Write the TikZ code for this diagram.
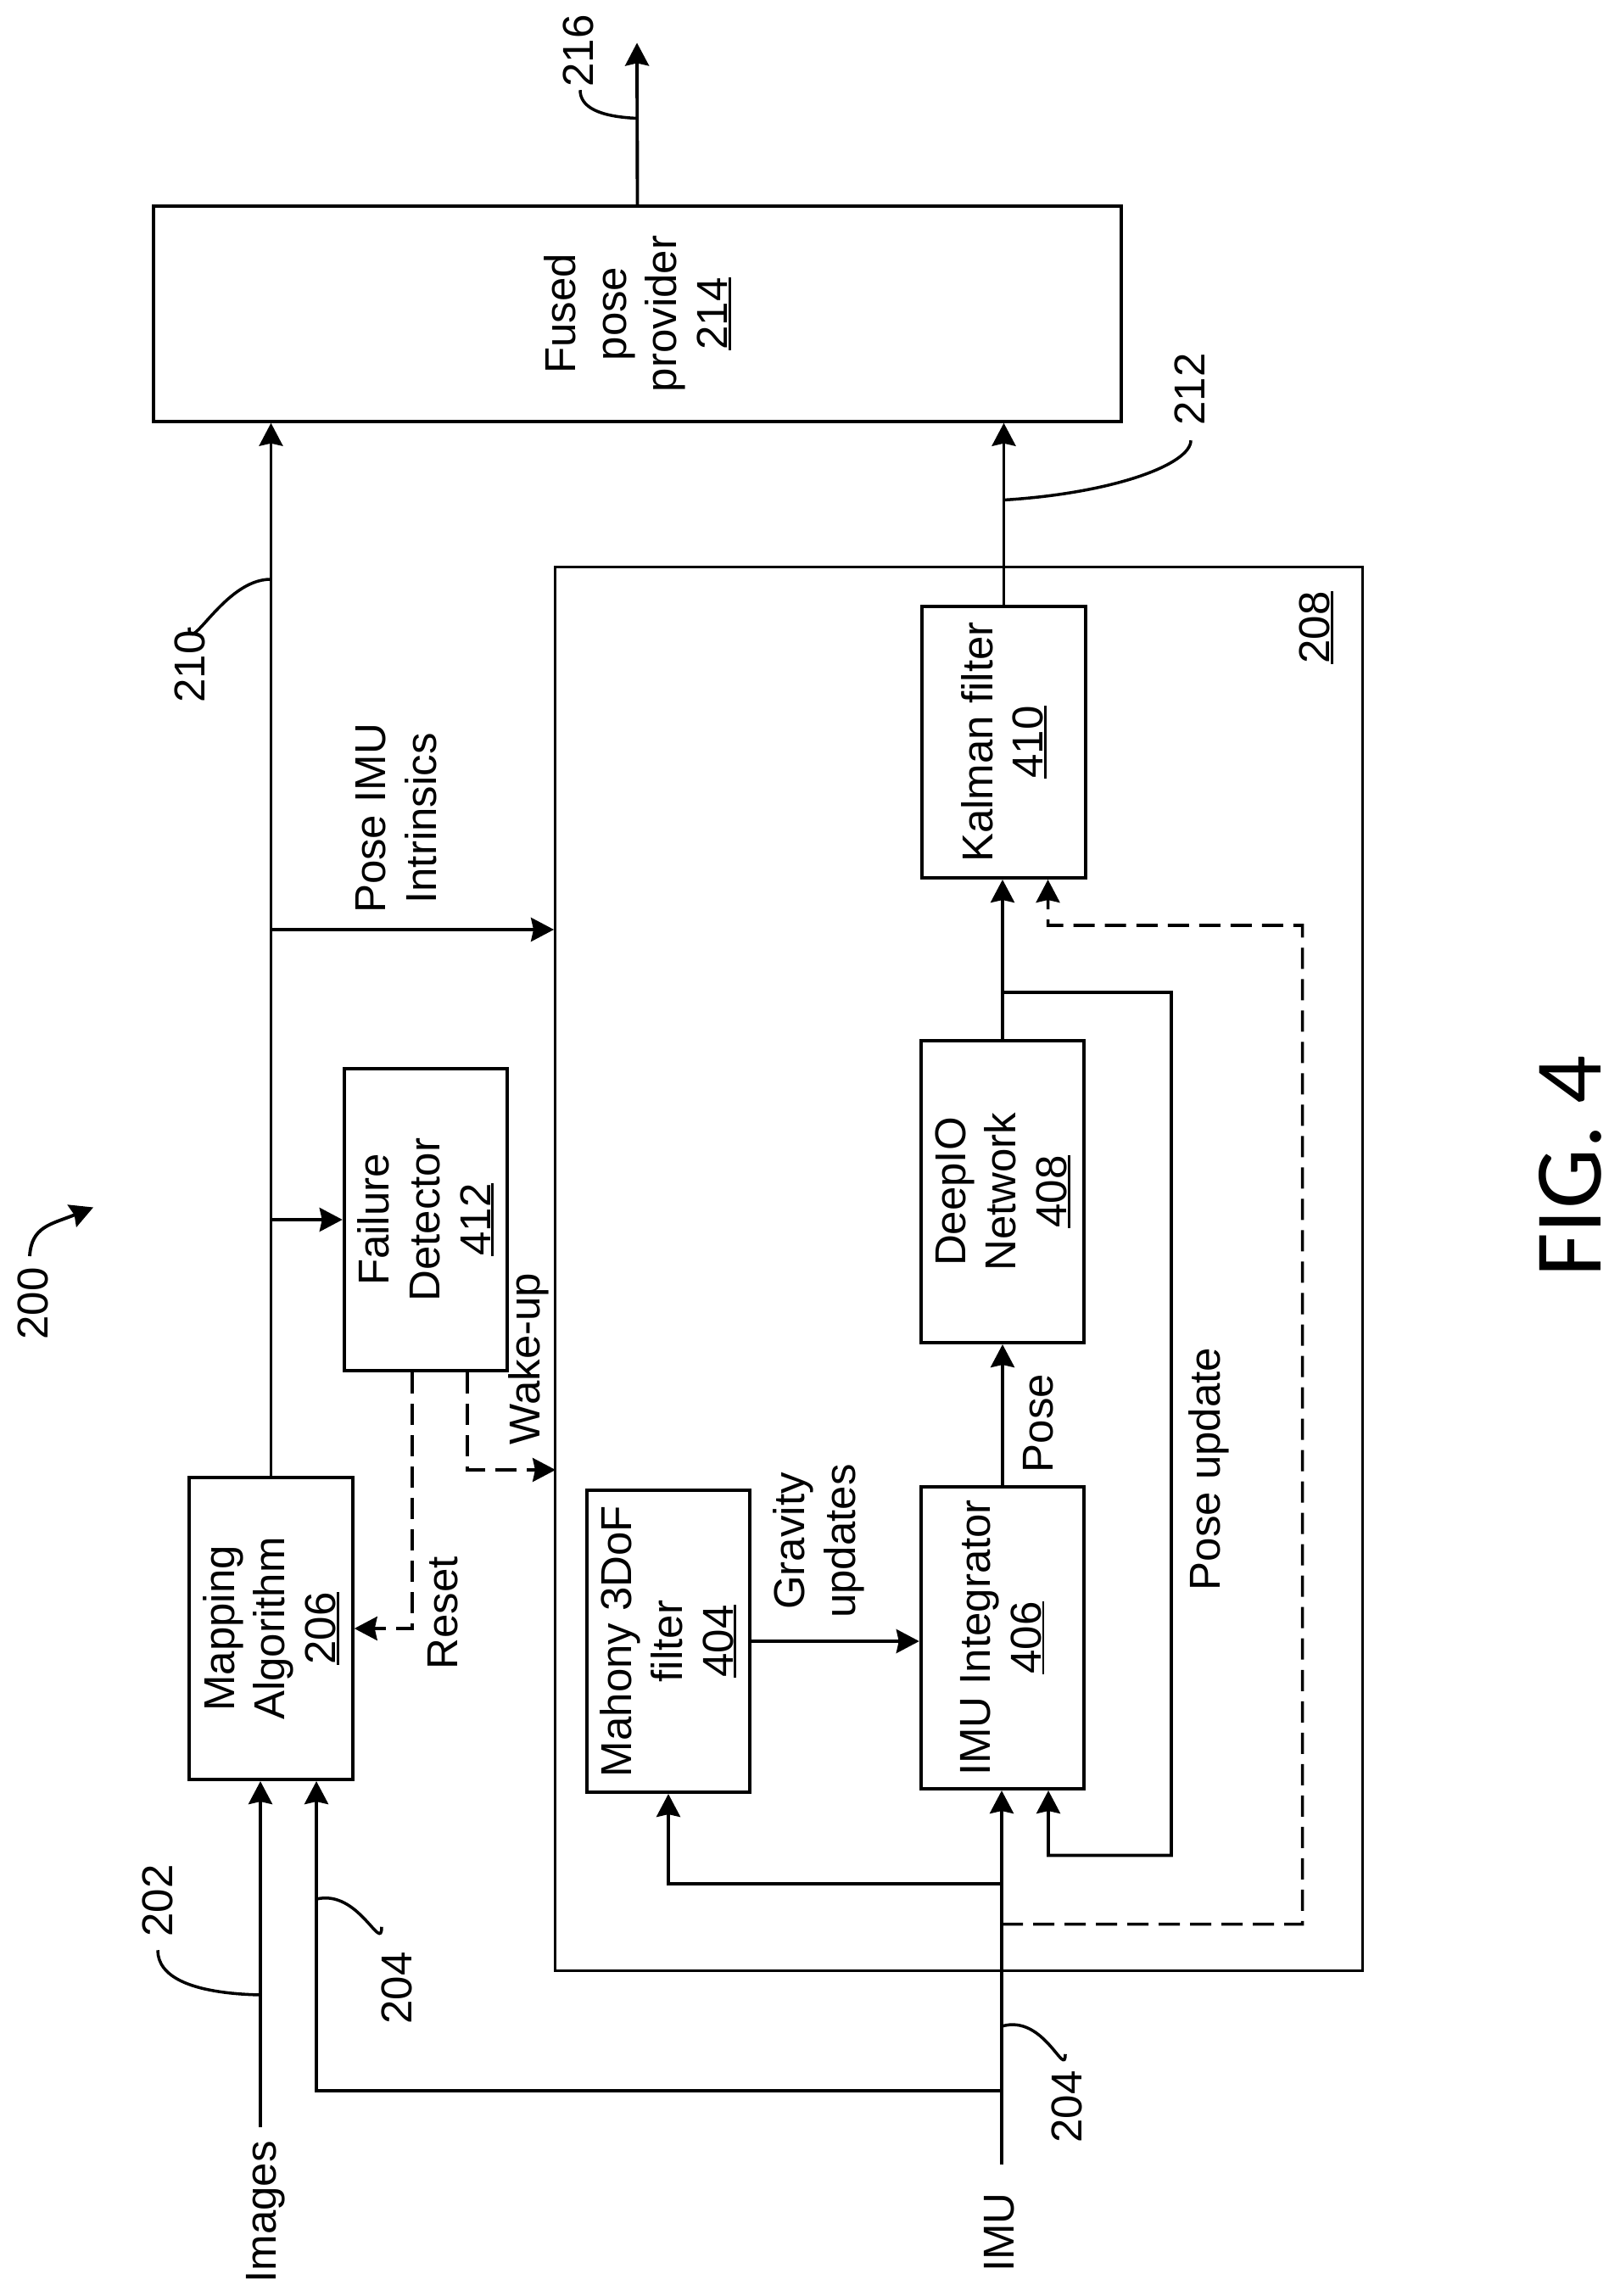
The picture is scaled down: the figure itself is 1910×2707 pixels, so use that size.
\documentclass[tikz,border=0pt]{standalone}
\usepackage{fontspec}
\setmainfont{Liberation Sans}
\newfontfamily\figfont{Carlito}
\usetikzlibrary{arrows.meta}
\newcommand{\refnum}[1]{\setbox0\hbox{#1}\rlap{\rule[-.08em]{\wd0}{.85pt}}\box0}
\begin{document}
\begin{tikzpicture}[x=.01cm,y=-.01cm,
	every node/.style={font=\fontsize{14.5}{17}\selectfont},
	box/.style={draw,rotate=90,align=center,inner sep=0pt,line width=1.1pt,minimum width=3.56cm,minimum height=1.925cm},
	txt/.style={rotate=90,align=center,inner sep=0pt},
	lbl/.style={rotate=90,inner sep=0pt,text height=10.4pt,text depth=0pt},
	thn/.style={line width=.85pt},
	tip/.style={-{Stealth[length=.27cm,width=.28cm,inset=.03cm]}},
	arr/.style={tip,line width=1.1pt},
	dsh/.style={tip,line width=1pt,dash pattern=on .25cm off .12cm},
	lead/.style={line width=1pt}]
	\useasboundingbox (0,0) rectangle (1910,2707);

	\node[draw,line width=.95pt,minimum width=9.51cm,minimum height=16.54cm] (S) at (1130.5,1496) {};
	\node[txt] (S') at (1552,740) {\refnum{208}};

	\node[box,minimum width=2.535cm,minimum height=11.41cm] (P) at (751.5,370) {Fused\\pose\\provider\\\refnum{214}};
	\node[box] (M) at (319.5,1920) {Mapping\\Algorithm\\\refnum{206}};
	\node[box] (F) at (502,1438) {Failure\\Detector\\\refnum{412}};
	\node[box] (H) at (788,1935) {Mahony 3DoF\\filter\\\refnum{404}};
	\node[box] (B) at (1182,1931) {IMU Integrator\\\refnum{406}};
	\node[box] (D) at (1182,1405) {DeepIO\\Network\\\refnum{408}};
	\node[box,minimum width=3.2cm] (K) at (1183.5,875) {Kalman filter\\\refnum{410}};

	\node[lbl,inner xsep=.16cm] (A) at (307,2608) {Images};
	\node[lbl,inner xsep=.33cm,text depth=.08cm] (I) at (1181,2632) {IMU};
	\node[txt] (T) at (965,1817) {Gravity\\updates};
	\node[txt] (U) at (467,965) {Pose IMU\\Intrinsics};
	\node[lbl] (V) at (1223,1678) {Pose};
	\node[lbl] (W) at (1420,1732) {Pose update};
	\node[lbl] (R) at (521,1902) {Reset};
	\node[lbl] (Y) at (618,1602) {Wake-up};

	\node[lbl] (n200) at (38,1537) {200};
	\node[lbl] (n202) at (185,2241) {202};
	\node[lbl] (n204) at (467,2344) {204};
	\node[lbl] (n204') at (1257,2484) {204};
	\node[lbl] (n210) at (223,786) {210};
	\node[lbl] (n212) at (1402,459) {212};
	\node[lbl] (n216) at (681,60) {216};

	\node[rotate=90,inner sep=0pt,font=\figfont\fontsize{32}{38}\selectfont] (G) at (1851,1375) {FIG. 4};

	\coordinate (O) at (751,50.5);
	\coordinate (Sw) at (655,1733);
	\coordinate (Ja) at (1181,2465);
	\coordinate (Jb) at (1181,2221);
	\coordinate (Jc) at (1181,2268.5);
	\coordinate (Jd) at (1181,2389);
	\coordinate (Je) at (1181,1170);
	\coordinate (Jf) at (319,1096);
	\coordinate (Jg) at (319,683);
	\coordinate (Jh) at (1183.5,589.5);
	\coordinate (Ji) at (751,139.5);
	\coordinate (Jk) at (307,2352);
	\coordinate (Jl) at (373,2239);
	\coordinate (Jm) at (35,1481);
	\coordinate (Jn) at (110,1423.5);

	\draw[arr] (A.east) -- (A.east |- M.west);
	\draw[arr] (Ja) -| ([xshift=.535cm]M.west);
	\draw[arr] (I.east) -- (I.east |- B.west);
	\draw[arr] (Jb) -| (H.west);
	\draw[arr] (H.south) -- (H.south -| B.north);
	\draw[arr] (B.east) -- (D.west);
	\draw[arr] (D.east) -- (D.east |- K.west);
	\draw[arr] (K.east) -- (K.east |- P.west);
	\draw[arr] (P.east) -- (O);
	\draw[arr] (Je) -- (1381,1170) -- (1381,2187.5) -- (1236,2187.5) -- ([xshift=.54cm]B.west);
	\draw[dsh] (Jc) -- (1535.6,2268.5) -- (1535.6,1091) -- (1235.5,1091) -- ([xshift=.52cm]K.west);

	\draw[thn,tip] (M.east) -- (M.east |- P.west);
	\draw[arr] (Jf) -- (Jf -| S.west);
	\draw[arr] (M.east |- F.north) -- (F.north);
	\draw[dsh] ([xshift=-.16cm]F.west) |- (M.south);
	\draw[dsh] ([xshift=.49cm]F.west) |- (Sw);

	\draw[lead] (Ji) .. controls +(-45,-2) and +(0,20) .. ([xshift=.03cm,yshift=-.03cm]n216.west);
	\draw[lead] (Jg) .. controls +(-55,0) and +(0,35) .. ([yshift=.03cm]n210.east);
	\draw[lead] (Jh) .. controls +(130,-8) and +(0,28) .. ([xshift=.02cm,yshift=-.17cm]n212.west);
	\draw[lead] (Jk) .. controls +(-85,-2) and +(0,30) .. ([xshift=.01cm,yshift=-.15cm]n202.west);
	\draw[lead] (Jl) .. controls +(50,-12) and +(0,32) .. ([xshift=-.17cm,yshift=.29cm]n204.east);
	\draw[lead] (Jd) .. controls +(50,-15) and +(0,30) .. ([xshift=-.01cm,yshift=.19cm]n204'.east);
	\draw[arr] (Jm) .. controls +(2,-35) and +(-50,20) .. (Jn);
\end{tikzpicture}
\end{document}
